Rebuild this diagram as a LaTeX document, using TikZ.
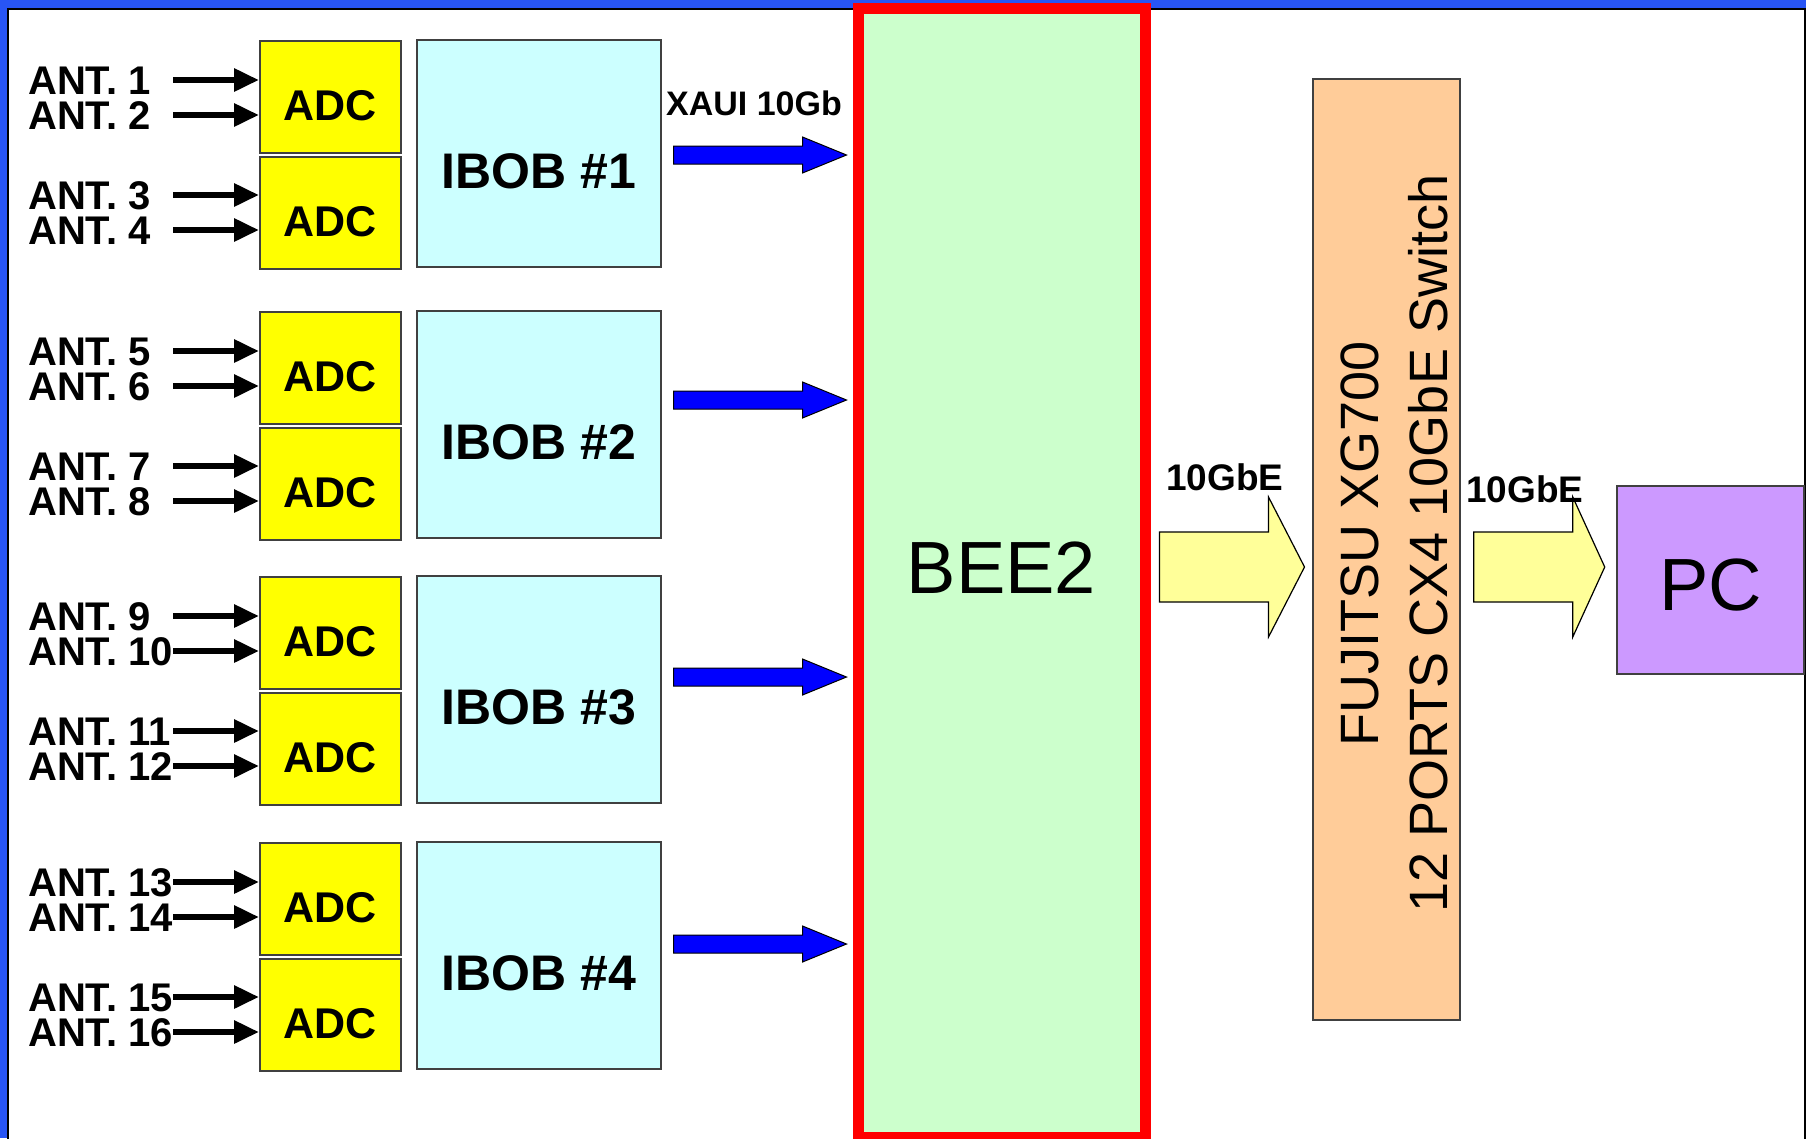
\documentclass[tikz,border=0pt]{standalone}
\usepackage{fontspec}
\setmainfont{Liberation Sans}
\usetikzlibrary{positioning, arrows.meta, calc}
\definecolor{frameBlue}{HTML}{2855F5}
\definecolor{boxLine}{HTML}{404040}
\definecolor{adcYellow}{HTML}{FFFF00}
\definecolor{ibobCyan}{HTML}{CCFFFF}
\definecolor{beeGreen}{HTML}{CCFFCC}
\definecolor{beeRed}{HTML}{FF0000}
\definecolor{switchOrange}{HTML}{FFCC99}
\definecolor{pcPurple}{HTML}{CC99FF}
\definecolor{xauiBlue}{HTML}{0000FF}
\definecolor{gbeYellow}{HTML}{FFFF99}

\begin{document}
\begin{tikzpicture}[x=1pt, y=-1pt,
    adcBox/.style={draw=boxLine, line width=1.5pt, rectangle, fill=adcYellow, anchor=north west, minimum width=141pt, minimum height=112pt, inner sep=0pt, font=\fontsize{43}{46}\selectfont\bfseries, text height=47pt, text depth=0pt},
    ibobBox/.style={draw=boxLine, line width=1.5pt, rectangle, fill=ibobCyan, anchor=north west, minimum width=244pt, minimum height=227pt, inner sep=0pt, font=\fontsize{50}{54}\selectfont\bfseries, text height=70pt, text depth=0pt},
    antLabel/.style={anchor=west, inner sep=0pt, font=\fontsize{40}{42}\selectfont\bfseries, text height=29pt, text depth=0pt},
    antArrow/.style={line width=6pt, -{Triangle[length=25pt, width=22pt]}},
    xauiArrow/.style={draw=black, line width=1pt, fill=xauiBlue},
    gbeArrow/.style={draw=black, line width=1.2pt, fill=gbeYellow},
    linkLabel/.style={inner sep=0pt, font=\fontsize{36}{38}\selectfont\bfseries},
]
\useasboundingbox (0,0) rectangle (1806,1138);
\clip (0,0) rectangle (1806,1138);
\fill[frameBlue] (0,0) rectangle (1806,1138);
\filldraw[fill=white, draw=black, line width=1.5pt] (8,9) rectangle (1805,1160);

% BEE2 board
\node[draw=beeRed, line width=11pt, fill=beeGreen, minimum width=287pt, minimum height=1129pt, font=\fontsize{74}{78}\selectfont, text height=53pt, text depth=12pt] (bee2) at (1001.5,573) {BEE2};

% four IBOB groups
\foreach \g/\ay [count=\k] in {40/155, 311/400, 576/677, 842/944} {
    \node[adcBox] (adcA\k) at (259,\g) {ADC};
    \node[adcBox] (adcB\k) at (259,\g+116) {ADC};
    \node[ibobBox] (ibob\k) at (416,\g-1) {IBOB \#\k};
    \foreach \dy/\j in {40/1, 75/2, 155/3, 190/4} {
        \pgfmathtruncatemacro\n{4*(\k-1)+\j}
        \node[antLabel] (ant\n) at (28,\g+\dy) {ANT. \n};
        \coordinate (in\n) at (173,\g+\dy);
        \draw[antArrow] (in\n) -- (in\n -| adcA\k.west);
    }
    \filldraw[xauiArrow] ($(ibob\k.east |- 0,\ay)+(12,-9)$) -- ++(129,0) -- ++(0,-9) -- ++(44,18) -- ++(-44,18) -- ++(0,-9) -- ++(-129,0) -- cycle;
}
\node[linkLabel, font=\fontsize{34}{36}\selectfont\bfseries] (xaui) at (754,103) {XAUI 10Gb};

% switch and PC
\node[draw=boxLine, line width=1.5pt, fill=switchOrange, minimum width=147pt, minimum height=941pt] (sw) at (1386.5,549.5) {};
\node[rotate=90, align=center, font=\fontsize{54}{69}\selectfont] (swText) at ($(sw.center)+(8,-6)$) {FUJITSU XG700\\12 PORTS CX4 10GbE Switch};
\node[draw=boxLine, line width=1.5pt, fill=pcPurple, minimum width=187pt, minimum height=188pt, font=\fontsize{74}{78}\selectfont, text height=61pt, text depth=0pt] (pc) at (1710.5,580) {PC};

\filldraw[gbeArrow] ($(bee2.east |- 0,567)+(9,-35)$) -- ++(109,0) -- ++(0,-35) -- ++(36,70) -- ++(-36,70) -- ++(0,-35) -- ++(-109,0) -- cycle;
\filldraw[gbeArrow] ($(sw.east |- 0,567)+(13,-35)$) -- ++(99,0) -- ++(0,-35) -- ++(32,70) -- ++(-32,70) -- ++(0,-35) -- ++(-99,0) -- cycle;
\node[linkLabel, font=\fontsize{37}{39}\selectfont\bfseries] (gbe1) at (1225,477) {10GbE};
\node[linkLabel, font=\fontsize{37}{39}\selectfont\bfseries] (gbe2) at (1525,489) {10GbE};
\end{tikzpicture}
\end{document}
